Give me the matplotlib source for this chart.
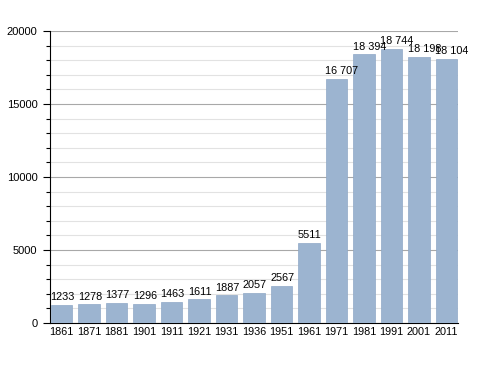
import matplotlib
matplotlib.use("Agg")
import matplotlib.pyplot as plt
from matplotlib.ticker import MultipleLocator

years = ["1861", "1871", "1881", "1901", "1911", "1921", "1931", "1936",
         "1951", "1961", "1971", "1981", "1991", "2001", "2011"]
population = [1233, 1278, 1377, 1296, 1463, 1611, 1887, 2057,
              2567, 5511, 16707, 18394, 18744, 18198, 18104]
labels = ["1233", "1278", "1377", "1296", "1463", "1611", "1887", "2057",
          "2567", "5511", "16 707", "18 394", "18 744", "18 198", "18 104"]

plt.rcParams['font.family'] = ['Liberation Sans', 'DejaVu Sans']

fig = plt.figure(figsize=(4.88, 3.73), dpi=100)
ax = fig.add_axes([0.1025, 0.134, 0.836, 0.783])

bar_w = 0.77
x = list(range(len(years)))
ax.bar(x, population, width=bar_w, color="#9cb4d0", edgecolor="#8fa8c6",
       linewidth=0.5, zorder=3)
for xi, v, lab in zip(x, population, labels):
    ax.text(xi - bar_w / 2 - 0.02, v + 330, lab, ha="left", va="baseline",
            fontsize=7.8, zorder=4)

ax.set_xlim(-0.42, len(years) - 0.58)
ax.set_ylim(0, 20000)
ax.set_xticks(x)
ax.set_xticklabels(years, fontsize=7.8)
ax.yaxis.set_major_locator(MultipleLocator(5000))
ax.yaxis.set_minor_locator(MultipleLocator(1000))
ax.tick_params(axis="y", which="major", length=5, width=0.8, labelsize=8, pad=4)
ax.tick_params(axis="y", which="minor", length=3, width=0.8)
ax.tick_params(axis="x", length=0, labelsize=7.8, pad=3)

ax.grid(axis="y", which="major", color="#a8a8a8", linewidth=0.8, zorder=0)
ax.grid(axis="y", which="minor", color="#e2e2e2", linewidth=0.8, zorder=0)
ax.set_axisbelow(True)

for s in ["top", "right"]:
    ax.spines[s].set_visible(False)
ax.spines["left"].set_linewidth(0.8)
ax.spines["bottom"].set_linewidth(0.8)

fig.savefig("out.png", dpi=100)
